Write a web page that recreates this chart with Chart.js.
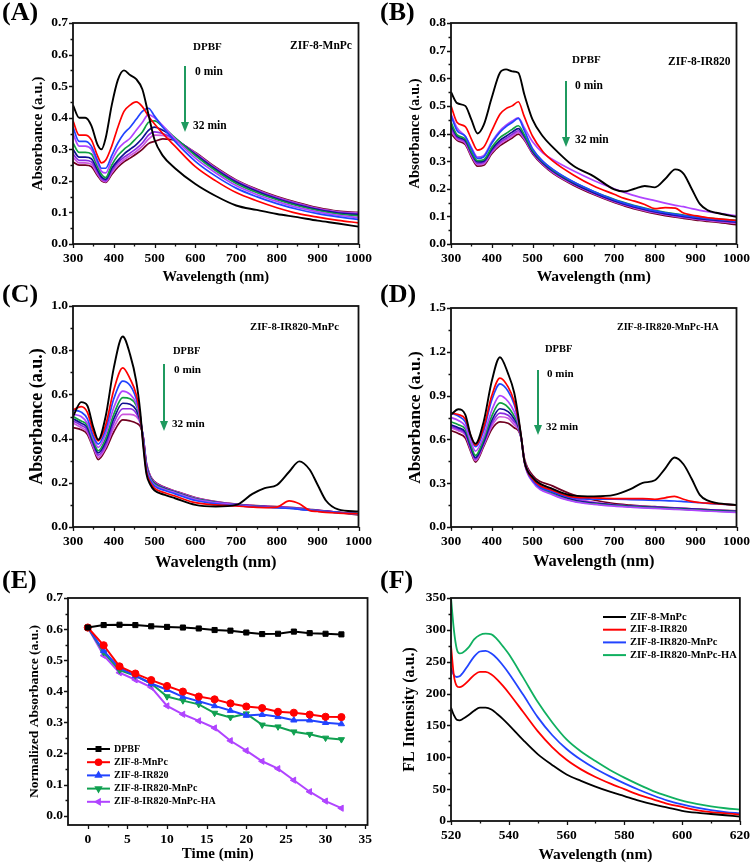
<!DOCTYPE html>
<html>
<head>
<meta charset="utf-8">
<script src="https://cdn.jsdelivr.net/npm/chart.js@4.4.1/dist/chart.umd.min.js"></script>
<style>
  body { margin: 0; background: #fff; }
  #fig { position: relative; width: 756px; height: 864px; background: #fff; overflow: hidden; }
  #fig canvas { position: absolute; }
  .tag { position: absolute; font: bold 26px 'Liberation Serif', serif; line-height: 1; color: #000; }
</style>
</head>
<body>
<div id="fig">
  <canvas id="cA" width="378" height="290" style="left:0;top:0"></canvas>
  <canvas id="cB" width="378" height="290" style="left:378px;top:0"></canvas>
  <canvas id="cC" width="378" height="285" style="left:0;top:290px"></canvas>
  <canvas id="cD" width="378" height="285" style="left:378px;top:290px"></canvas>
  <canvas id="cE" width="378" height="289" style="left:0;top:575px"></canvas>
  <canvas id="cF" width="378" height="289" style="left:378px;top:575px"></canvas>
  <div class="tag" style="left:2px;top:-1px">(A)</div>
  <div class="tag" style="left:380px;top:-1px">(B)</div>
  <div class="tag" style="left:2px;top:281px">(C)</div>
  <div class="tag" style="left:380px;top:281px">(D)</div>
  <div class="tag" style="left:2px;top:567px">(E)</div>
  <div class="tag" style="left:380px;top:567px">(F)</div>
</div>
<script>
// figura de 6 paneles: espectros de DPBF (A-D), cinetica (E) y fluorescencia (F)
var SERIF = "'Liberation Serif', 'DejaVu Serif', serif";
var TIMES = ['0 min', '4 min', '8 min', '12 min', '16 min', '20 min', '24 min', '28 min', '32 min'];
var SPEC_COLORS = ['#000000', '#ff0000', '#2244ff', '#b044ff', '#10a040', '#101090', '#8a2be2', '#cc55dd', '#700020'];

// (A) ZIF-8-MnPc
var A_WL = [300, 315, 330, 345, 360, 370, 380, 395, 410, 425, 440, 455, 470, 485, 500, 520, 550, 600, 650, 700, 750, 800, 850, 900, 950, 1000];
var A_ABS = [
  [0.44, 0.40, 0.40, 0.375, 0.315, 0.30, 0.335, 0.44, 0.52, 0.55, 0.535, 0.522, 0.49, 0.41, 0.33, 0.28, 0.24, 0.19, 0.152, 0.122, 0.108, 0.095, 0.085, 0.074, 0.065, 0.055],
  [0.39, 0.345, 0.345, 0.33, 0.28, 0.257, 0.265, 0.31, 0.37, 0.42, 0.44, 0.45, 0.435, 0.405, 0.38, 0.35, 0.31, 0.245, 0.2, 0.163, 0.137, 0.115, 0.097, 0.085, 0.075, 0.067],
  [0.37, 0.325, 0.325, 0.31, 0.265, 0.24, 0.24, 0.28, 0.32, 0.35, 0.37, 0.395, 0.42, 0.43, 0.405, 0.37, 0.325, 0.262, 0.215, 0.177, 0.15, 0.128, 0.11, 0.096, 0.086, 0.078],
  [0.35, 0.31, 0.31, 0.30, 0.255, 0.23, 0.225, 0.265, 0.30, 0.32, 0.335, 0.36, 0.385, 0.41, 0.40, 0.375, 0.333, 0.272, 0.225, 0.185, 0.157, 0.135, 0.116, 0.102, 0.091, 0.084],
  [0.32, 0.29, 0.29, 0.285, 0.245, 0.22, 0.21, 0.25, 0.28, 0.30, 0.315, 0.335, 0.355, 0.385, 0.39, 0.372, 0.337, 0.28, 0.232, 0.192, 0.163, 0.14, 0.121, 0.106, 0.095, 0.089],
  [0.30, 0.275, 0.275, 0.27, 0.235, 0.212, 0.205, 0.24, 0.265, 0.285, 0.30, 0.315, 0.335, 0.36, 0.37, 0.36, 0.335, 0.284, 0.236, 0.196, 0.167, 0.143, 0.124, 0.109, 0.098, 0.093],
  [0.285, 0.265, 0.265, 0.26, 0.228, 0.207, 0.2, 0.232, 0.258, 0.275, 0.288, 0.302, 0.32, 0.345, 0.355, 0.35, 0.332, 0.286, 0.239, 0.199, 0.17, 0.146, 0.127, 0.111, 0.1, 0.096],
  [0.275, 0.257, 0.257, 0.252, 0.222, 0.203, 0.197, 0.226, 0.25, 0.267, 0.28, 0.293, 0.31, 0.332, 0.345, 0.344, 0.33, 0.288, 0.241, 0.201, 0.172, 0.148, 0.129, 0.113, 0.102, 0.098],
  [0.26, 0.25, 0.25, 0.245, 0.217, 0.2, 0.195, 0.22, 0.243, 0.26, 0.272, 0.285, 0.3, 0.318, 0.325, 0.333, 0.328, 0.29, 0.243, 0.203, 0.174, 0.15, 0.131, 0.115, 0.104, 0.1]
];

// (B) ZIF-8-IR820
var B_WL = [300, 315, 335, 350, 365, 380, 400, 420, 435, 450, 465, 480, 500, 525, 550, 600, 650, 700, 725, 750, 775, 800, 825, 850, 870, 890, 910, 930, 950, 1000];
var B_ABS = [
  [0.55, 0.51, 0.50, 0.45, 0.40, 0.43, 0.53, 0.62, 0.632, 0.625, 0.62, 0.54, 0.45, 0.39, 0.35, 0.283, 0.245, 0.198, 0.19, 0.2, 0.21, 0.205, 0.235, 0.27, 0.255, 0.2, 0.145, 0.122, 0.113, 0.098],
  [0.50, 0.44, 0.425, 0.38, 0.34, 0.35, 0.41, 0.47, 0.49, 0.5, 0.515, 0.46, 0.39, 0.335, 0.30, 0.25, 0.21, 0.18, 0.165, 0.155, 0.143, 0.128, 0.132, 0.13, 0.112, 0.105, 0.1, 0.095, 0.092, 0.085],
  [0.465, 0.41, 0.39, 0.345, 0.31, 0.315, 0.365, 0.405, 0.425, 0.44, 0.455, 0.41, 0.345, 0.3, 0.27, 0.225, 0.19, 0.16, 0.148, 0.137, 0.128, 0.12, 0.113, 0.107, 0.103, 0.099, 0.095, 0.092, 0.089, 0.082],
  [0.47, 0.42, 0.39, 0.35, 0.315, 0.32, 0.37, 0.41, 0.43, 0.445, 0.457, 0.42, 0.37, 0.33, 0.305, 0.265, 0.23, 0.2, 0.187, 0.175, 0.165, 0.157, 0.148, 0.14, 0.135, 0.128, 0.122, 0.117, 0.113, 0.102],
  [0.44, 0.395, 0.38, 0.335, 0.302, 0.305, 0.35, 0.385, 0.4, 0.415, 0.428, 0.395, 0.34, 0.298, 0.268, 0.224, 0.19, 0.162, 0.15, 0.139, 0.13, 0.122, 0.115, 0.109, 0.105, 0.101, 0.097, 0.094, 0.091, 0.086],
  [0.43, 0.39, 0.375, 0.33, 0.297, 0.3, 0.343, 0.375, 0.39, 0.405, 0.418, 0.39, 0.335, 0.294, 0.264, 0.22, 0.186, 0.157, 0.145, 0.134, 0.125, 0.117, 0.11, 0.104, 0.1, 0.096, 0.092, 0.089, 0.086, 0.08],
  [0.42, 0.385, 0.37, 0.325, 0.292, 0.295, 0.337, 0.368, 0.382, 0.397, 0.41, 0.385, 0.332, 0.291, 0.261, 0.218, 0.184, 0.155, 0.143, 0.132, 0.123, 0.115, 0.108, 0.102, 0.098, 0.094, 0.09, 0.087, 0.084, 0.078],
  [0.41, 0.38, 0.365, 0.32, 0.287, 0.29, 0.332, 0.362, 0.376, 0.39, 0.404, 0.38, 0.33, 0.289, 0.259, 0.216, 0.182, 0.153, 0.141, 0.13, 0.121, 0.113, 0.106, 0.1, 0.096, 0.092, 0.088, 0.085, 0.082, 0.075],
  [0.40, 0.375, 0.36, 0.315, 0.282, 0.285, 0.327, 0.356, 0.37, 0.384, 0.398, 0.376, 0.327, 0.286, 0.256, 0.213, 0.179, 0.15, 0.138, 0.127, 0.118, 0.11, 0.103, 0.097, 0.093, 0.089, 0.085, 0.082, 0.079, 0.07]
];

// (C) ZIF-8-IR820-MnPc
var C_WL = [300, 320, 335, 350, 362, 380, 400, 422, 440, 455, 465, 472, 480, 490, 500, 525, 550, 600, 650, 700, 740, 770, 800, 830, 855, 880, 900, 920, 950, 1000];
var C_ABS = [
  [0.50, 0.565, 0.55, 0.45, 0.395, 0.50, 0.72, 0.862, 0.78, 0.66, 0.52, 0.37, 0.24, 0.19, 0.165, 0.145, 0.13, 0.10, 0.093, 0.10, 0.15, 0.176, 0.19, 0.25, 0.297, 0.26, 0.19, 0.12, 0.08, 0.07],
  [0.53, 0.545, 0.52, 0.43, 0.39, 0.46, 0.62, 0.72, 0.67, 0.60, 0.50, 0.38, 0.25, 0.2, 0.175, 0.155, 0.14, 0.11, 0.1, 0.095, 0.09, 0.088, 0.09, 0.118, 0.105, 0.075, 0.07, 0.066, 0.063, 0.06],
  [0.53, 0.52, 0.49, 0.41, 0.375, 0.44, 0.58, 0.66, 0.64, 0.58, 0.50, 0.39, 0.26, 0.21, 0.185, 0.165, 0.15, 0.12, 0.105, 0.097, 0.092, 0.09, 0.087, 0.084, 0.08, 0.075, 0.072, 0.07, 0.065, 0.06],
  [0.51, 0.50, 0.47, 0.40, 0.36, 0.42, 0.54, 0.615, 0.60, 0.56, 0.49, 0.395, 0.27, 0.215, 0.19, 0.17, 0.155, 0.125, 0.11, 0.1, 0.094, 0.091, 0.088, 0.085, 0.081, 0.076, 0.073, 0.07, 0.065, 0.06],
  [0.50, 0.48, 0.46, 0.39, 0.345, 0.40, 0.51, 0.585, 0.58, 0.55, 0.485, 0.4, 0.275, 0.22, 0.195, 0.172, 0.157, 0.127, 0.111, 0.1, 0.094, 0.091, 0.088, 0.085, 0.081, 0.076, 0.073, 0.07, 0.065, 0.06],
  [0.49, 0.47, 0.45, 0.38, 0.335, 0.385, 0.49, 0.56, 0.555, 0.53, 0.48, 0.405, 0.28, 0.222, 0.197, 0.174, 0.158, 0.128, 0.112, 0.101, 0.095, 0.092, 0.089, 0.086, 0.082, 0.077, 0.074, 0.071, 0.066, 0.06],
  [0.48, 0.46, 0.44, 0.37, 0.325, 0.37, 0.47, 0.535, 0.535, 0.515, 0.475, 0.41, 0.285, 0.225, 0.2, 0.176, 0.16, 0.13, 0.113, 0.102, 0.096, 0.093, 0.09, 0.087, 0.083, 0.078, 0.075, 0.072, 0.066, 0.06],
  [0.47, 0.45, 0.43, 0.36, 0.315, 0.36, 0.45, 0.51, 0.51, 0.50, 0.47, 0.41, 0.29, 0.228, 0.203, 0.178, 0.162, 0.132, 0.114, 0.103, 0.097, 0.094, 0.091, 0.088, 0.084, 0.079, 0.075, 0.072, 0.066, 0.058],
  [0.45, 0.44, 0.42, 0.355, 0.305, 0.35, 0.43, 0.485, 0.48, 0.47, 0.455, 0.41, 0.29, 0.23, 0.205, 0.18, 0.163, 0.133, 0.115, 0.104, 0.098, 0.095, 0.092, 0.089, 0.085, 0.08, 0.076, 0.073, 0.066, 0.055]
];

// (D) ZIF-8-IR820-MnPc-HA
var D_WL = [300, 318, 335, 348, 360, 380, 400, 420, 440, 455, 465, 472, 480, 500, 550, 600, 650, 700, 740, 770, 800, 825, 848, 870, 890, 910, 930, 950, 1000];
var D_ABS = [
  [0.77, 0.806, 0.77, 0.63, 0.57, 0.72, 1.0, 1.163, 1.05, 0.92, 0.76, 0.62, 0.45, 0.34, 0.26, 0.215, 0.21, 0.22, 0.26, 0.302, 0.32, 0.40, 0.476, 0.43, 0.33, 0.22, 0.18, 0.165, 0.15],
  [0.78, 0.77, 0.74, 0.63, 0.56, 0.68, 0.90, 1.02, 0.96, 0.86, 0.74, 0.62, 0.45, 0.33, 0.25, 0.205, 0.2, 0.195, 0.195, 0.195, 0.19, 0.2, 0.21, 0.19, 0.175, 0.168, 0.163, 0.16, 0.15],
  [0.78, 0.76, 0.72, 0.62, 0.55, 0.66, 0.87, 0.98, 0.93, 0.84, 0.73, 0.62, 0.45, 0.32, 0.24, 0.2, 0.19, 0.19, 0.188, 0.186, 0.183, 0.18, 0.178, 0.174, 0.17, 0.166, 0.162, 0.158, 0.15],
  [0.75, 0.73, 0.69, 0.59, 0.52, 0.62, 0.80, 0.90, 0.86, 0.79, 0.71, 0.61, 0.44, 0.31, 0.22, 0.175, 0.155, 0.143, 0.136, 0.131, 0.127, 0.124, 0.121, 0.118, 0.115, 0.112, 0.109, 0.106, 0.10],
  [0.72, 0.70, 0.67, 0.57, 0.49, 0.60, 0.76, 0.85, 0.82, 0.76, 0.70, 0.61, 0.445, 0.315, 0.225, 0.178, 0.158, 0.146, 0.139, 0.134, 0.13, 0.127, 0.124, 0.121, 0.118, 0.115, 0.112, 0.109, 0.103],
  [0.70, 0.68, 0.65, 0.55, 0.475, 0.58, 0.73, 0.81, 0.79, 0.74, 0.69, 0.61, 0.45, 0.32, 0.235, 0.185, 0.163, 0.15, 0.143, 0.138, 0.134, 0.131, 0.128, 0.125, 0.122, 0.119, 0.116, 0.113, 0.106],
  [0.69, 0.67, 0.64, 0.54, 0.465, 0.57, 0.71, 0.78, 0.765, 0.72, 0.68, 0.61, 0.455, 0.33, 0.245, 0.19, 0.166, 0.152, 0.145, 0.14, 0.136, 0.133, 0.13, 0.127, 0.124, 0.121, 0.118, 0.115, 0.108],
  [0.68, 0.66, 0.63, 0.53, 0.455, 0.56, 0.69, 0.755, 0.745, 0.70, 0.67, 0.61, 0.46, 0.34, 0.26, 0.2, 0.17, 0.152, 0.144, 0.139, 0.135, 0.132, 0.129, 0.126, 0.123, 0.12, 0.117, 0.114, 0.106],
  [0.66, 0.64, 0.61, 0.52, 0.445, 0.55, 0.67, 0.72, 0.71, 0.68, 0.66, 0.61, 0.47, 0.355, 0.28, 0.22, 0.185, 0.16, 0.15, 0.144, 0.139, 0.135, 0.132, 0.128, 0.125, 0.122, 0.119, 0.116, 0.11]
];

// (E) absorbancia normalizada vs tiempo
var E_T = [0, 2, 4, 6, 8, 10, 12, 14, 16, 18, 20, 22, 24, 26, 28, 30, 32];
var E_DPBF = [0.605, 0.613, 0.614, 0.613, 0.609, 0.607, 0.605, 0.602, 0.597, 0.595, 0.589, 0.584, 0.585, 0.592, 0.587, 0.585, 0.583];
var E_MNPC = [0.605, 0.548, 0.48, 0.457, 0.436, 0.417, 0.399, 0.383, 0.374, 0.361, 0.351, 0.346, 0.334, 0.331, 0.325, 0.318, 0.317];
var E_IR820 = [0.605, 0.53, 0.475, 0.45, 0.425, 0.405, 0.382, 0.368, 0.353, 0.338, 0.322, 0.325, 0.318, 0.307, 0.307, 0.299, 0.295];
var E_IR_MNPC = [0.605, 0.525, 0.468, 0.45, 0.425, 0.383, 0.37, 0.358, 0.33, 0.316, 0.328, 0.292, 0.286, 0.27, 0.262, 0.25, 0.245];
var E_HA = [0.605, 0.515, 0.46, 0.437, 0.413, 0.353, 0.326, 0.305, 0.282, 0.241, 0.209, 0.175, 0.151, 0.114, 0.077, 0.047, 0.024];

// (F) fluorescencia
var F_WL = [520, 521, 522, 523, 524, 526, 528, 530, 532, 534, 536, 538, 540, 545, 550, 555, 560, 565, 570, 575, 580, 585, 590, 595, 600, 605, 610, 615, 620];
var F_MNPC = [178, 166, 159, 158, 160, 166, 173, 178, 178, 175, 168, 160, 151, 127, 105, 88, 73, 63, 54, 46, 39, 32, 26, 21, 16, 13, 11, 9, 7];
var F_IR820 = [275, 228, 212, 210, 212, 220, 229, 234, 234, 230, 222, 212, 201, 171, 141, 116, 96, 81, 69, 59, 50, 41, 34, 27, 22, 17, 14, 12, 10];
var F_IR_MNPC = [240, 229, 226, 227, 232, 245, 258, 266, 267, 263, 255, 244, 232, 198, 163, 135, 113, 96, 82, 70, 59, 49, 40, 32, 26, 21, 17, 14, 12];
var F_HA = [350, 300, 270, 263, 264, 272, 285, 292, 294, 293, 285, 274, 262, 225, 187, 155, 128, 109, 94, 80, 68, 57, 47, 39, 32, 27, 23, 20, 18];

var SPEC_X_TICKS = [300, 400, 500, 600, 700, 800, 900, 1000];

function pts(xs, ys) {
  return xs.map(function (x, i) { return { x: x, y: ys[i] }; });
}

function spectra(wl, rows) {
  return rows.map(function (r, i) {
    return { label: TIMES[i], data: pts(wl, r), borderColor: SPEC_COLORS[i], borderWidth: i === 0 ? 1.9 : 1.7,
      pointRadius: 0, cubicInterpolationMode: 'monotone' };
  });
}

function ticksOf(lo, hi, step) {
  var out = [];
  for (var k = 0; lo + k * step <= hi + 1e-9; k++) out.push(+(lo + k * step).toFixed(4));
  return out;
}

function withMinor(major) {
  var out = [];
  major.forEach(function (v, i) {
    out.push({ v: v, len: 4 });
    if (i < major.length - 1) out.push({ v: (v + major[i + 1]) / 2, len: 2.5 });
  });
  return out;
}

function marker(ctx, ds, x, y, r) {
  ctx.fillStyle = ds.backgroundColor || ds.borderColor;
  ctx.strokeStyle = ds.borderColor;
  if (Chart.helpers && Chart.helpers.drawPoint) {
    Chart.helpers.drawPoint(ctx, { pointStyle: ds.pointStyle, rotation: ds.pointRotation || 0,
      radius: r, borderWidth: 1 }, x, y);
  } else {
    ctx.beginPath(); ctx.arc(x, y, r, 0, Math.PI * 2); ctx.fill();
  }
}

// marco con ticks hacia afuera (abajo e izquierda), textos, flecha y leyenda interna
var frame = {
  id: 'frame',
  afterDatasetsDraw: function (chart, args, o) {
    var ctx = chart.ctx, a = chart.chartArea, xs = chart.scales.x, ys = chart.scales.y;
    ctx.save();
    ctx.strokeStyle = '#111';
    ctx.lineWidth = 1.3;
    ctx.beginPath();
    withMinor(o.xTicks).forEach(function (m) {
      var px = Math.round(xs.getPixelForValue(m.v)) + 0.5;
      if (px < a.left - 1 || px > a.right + 1) return;
      ctx.moveTo(px, a.bottom); ctx.lineTo(px, a.bottom + m.len);
    });
    withMinor(o.yTicks).forEach(function (m) {
      var py = Math.round(ys.getPixelForValue(m.v)) + 0.5;
      if (py < a.top - 1 || py > a.bottom + 1) return;
      ctx.moveTo(a.left, py); ctx.lineTo(a.left - m.len, py);
    });
    ctx.stroke();
    ctx.lineWidth = 1.8;
    ctx.strokeRect(a.left, a.top, a.right - a.left, a.bottom - a.top);

    ctx.fillStyle = '#000';
    ctx.textAlign = 'left';
    ctx.textBaseline = 'middle';
    (o.notes || []).forEach(function (n) {
      ctx.font = 'bold ' + n.size + 'px ' + SERIF;
      ctx.fillText(n.text, n.x, n.y);
    });

    if (o.arrow) {
      var ar = o.arrow;
      ctx.strokeStyle = '#1f9a5f'; ctx.fillStyle = '#1f9a5f'; ctx.lineWidth = 2;
      ctx.beginPath(); ctx.moveTo(ar.x, ar.y1); ctx.lineTo(ar.x, ar.y2 - 8); ctx.stroke();
      ctx.beginPath(); ctx.moveTo(ar.x - 4, ar.y2 - 10); ctx.lineTo(ar.x + 4, ar.y2 - 10); ctx.lineTo(ar.x, ar.y2); ctx.closePath(); ctx.fill();
    }

    if (o.legend) {
      var lg = o.legend;
      chart.data.datasets.forEach(function (ds, i) {
        var y = lg.y + i * lg.dy;
        ctx.strokeStyle = ds.borderColor; ctx.lineWidth = 2;
        ctx.beginPath(); ctx.moveTo(lg.x, y); ctx.lineTo(lg.x + lg.w, y); ctx.stroke();
        if (ds.pointRadius) marker(ctx, ds, lg.x + lg.w / 2, y, 2.8);
        ctx.fillStyle = '#000';
        ctx.font = 'bold ' + lg.size + 'px ' + SERIF;
        ctx.fillText(ds.label, lg.x + lg.w + 4, y);
      });
    }
    ctx.restore();
  }
};

function axis(ax, isX, boxSize, titlePad) {
  return {
    type: 'linear', min: ax.min, max: ax.max,
    grid: { display: false, drawTicks: false },
    border: { display: false },
    afterBuildTicks: function (s) { s.ticks = ax.ticks.map(function (v) { return { value: v }; }); },
    afterFit: function (s) { if (isX) s.height = boxSize; else s.width = boxSize; },
    ticks: { autoSkip: false, maxRotation: 0, padding: isX ? 6 : 5, color: '#000',
      font: { family: SERIF, size: 13.5, weight: 'bold' },
      callback: function (v) { return Number(v).toFixed(ax.dec); } },
    title: { display: true, text: ax.title, color: '#000',
      font: { family: SERIF, size: ax.size, weight: 'bold', lineHeight: 1 },
      padding: isX ? { top: 0, bottom: titlePad } : { top: titlePad, bottom: 0 } }
  };
}

function panel(id, p) {
  var c = document.getElementById(id);
  var W = c.width, H = c.height;
  return new Chart(c, {
    type: 'line',
    data: { datasets: p.datasets },
    options: {
      responsive: false, animation: false, devicePixelRatio: 1,
      layout: { padding: { top: p.area[1], right: W - p.area[2], left: 0, bottom: 0 } },
      plugins: {
        legend: { display: false }, tooltip: { enabled: false },
        frame: { xTicks: p.x.ticks, yTicks: p.y.ticks, notes: p.notes, arrow: p.arrow, legend: p.legend }
      },
      scales: {
        x: axis(p.x, true, H - p.area[3], H - p.x.at - p.x.size / 2),
        y: axis(p.y, false, p.area[0], p.y.at - p.y.size / 2)
      }
    },
    plugins: [frame]
  });
}

Chart.defaults.font.family = SERIF;

panel('cA', {
  area: [73, 23, 362, 244],
  datasets: spectra(A_WL, A_ABS),
  x: { min: 300, max: 1000, ticks: SPEC_X_TICKS, dec: 0, title: 'Wavelength (nm)', size: 14.5, at: 277 },
  y: { min: 0, max: 0.7, ticks: ticksOf(0, 0.7, 0.1), dec: 1, title: 'Absorbance (a.u.)', size: 15, at: 38 },
  notes: [
    { text: 'DPBF', x: 193, y: 47, size: 11 },
    { text: 'ZIF-8-MnPc', x: 290, y: 46, size: 11.5 },
    { text: '0 min', x: 195, y: 72, size: 11.5 },
    { text: '32 min', x: 193, y: 126, size: 11.5 }
  ],
  arrow: { x: 185, y1: 66, y2: 132 }
});

panel('cB', {
  area: [73, 23, 362, 244],
  datasets: spectra(B_WL, B_ABS),
  x: { min: 300, max: 1000, ticks: SPEC_X_TICKS, dec: 0, title: 'Wavelength (nm)', size: 15.5, at: 277 },
  y: { min: 0, max: 0.8, ticks: ticksOf(0, 0.8, 0.1), dec: 1, title: 'Absorbance (a.u.)', size: 14.5, at: 37 },
  notes: [
    { text: 'DPBF', x: 194, y: 60, size: 11 },
    { text: 'ZIF-8-IR820', x: 290, y: 62, size: 11.5 },
    { text: '0 min', x: 197, y: 86, size: 11.5 },
    { text: '32 min', x: 197, y: 140, size: 11.5 }
  ],
  arrow: { x: 188, y1: 81, y2: 147 }
});

panel('cC', {
  area: [73, 16, 361, 237],
  datasets: spectra(C_WL, C_ABS),
  x: { min: 300, max: 1000, ticks: SPEC_X_TICKS, dec: 0, title: 'Wavelength (nm)', size: 16.5, at: 273 },
  y: { min: 0, max: 1.0, ticks: ticksOf(0, 1.0, 0.2), dec: 1, title: 'Absorbance (a.u.)', size: 18, at: 37 },
  notes: [
    { text: 'ZIF-8-IR820-MnPc', x: 250, y: 37, size: 10.7 },
    { text: 'DPBF', x: 173, y: 61, size: 10.5 },
    { text: '0 min', x: 174, y: 80, size: 11.2 },
    { text: '32 min', x: 172, y: 134, size: 11.2 }
  ],
  arrow: { x: 164, y1: 74, y2: 141 }
});

panel('cD', {
  area: [73, 18, 362, 237],
  datasets: spectra(D_WL, D_ABS),
  x: { min: 300, max: 1000, ticks: SPEC_X_TICKS, dec: 0, title: 'Wavelength (nm)', size: 16.5, at: 272 },
  y: { min: 0, max: 1.5, ticks: ticksOf(0, 1.5, 0.3), dec: 1, title: 'Absorbance (a.u.)', size: 17.5, at: 37 },
  notes: [
    { text: 'ZIF-8-IR820-MnPc-HA', x: 239, y: 37, size: 10 },
    { text: 'DPBF', x: 167, y: 59, size: 10.5 },
    { text: '0 min', x: 169, y: 84, size: 11 },
    { text: '32 min', x: 168, y: 137, size: 11 }
  ],
  arrow: { x: 160, y1: 80, y2: 145 }
});

function kinetic(label, ys, color, style, rot) {
  return { label: label, data: pts(E_T, ys), borderColor: color, backgroundColor: color, borderWidth: 2,
    pointStyle: style, pointRotation: rot, pointRadius: 3.6, pointBorderWidth: 1, tension: 0 };
}

panel('cE', {
  area: [68, 23, 368, 250],
  datasets: [
    kinetic('DPBF', E_DPBF, '#000000', 'rect', 0),
    kinetic('ZIF-8-MnPc', E_MNPC, '#ff0000', 'circle', 0),
    kinetic('ZIF-8-IR820', E_IR820, '#2244ff', 'triangle', 0),
    kinetic('ZIF-8-IR820-MnPc', E_IR_MNPC, '#10a050', 'triangle', 180),
    kinetic('ZIF-8-IR820-MnPc-HA', E_HA, '#b044ff', 'triangle', 270)
  ],
  x: { min: -2.5, max: 35.3, ticks: ticksOf(0, 35, 5), dec: 0, title: 'Time (min)', size: 15, at: 279 },
  y: { min: -0.03, max: 0.7, ticks: ticksOf(0, 0.7, 0.1), dec: 1, title: 'Normalized Absorbance (a.u.)', size: 13.5, at: 35 },
  legend: { x: 87, y: 174, dy: 13.2, w: 23, size: 10 }
});

function fl(label, ys, color) {
  return { label: label, data: pts(F_WL, ys), borderColor: color, borderWidth: 1.8, pointRadius: 0,
    cubicInterpolationMode: 'monotone' };
}

panel('cF', {
  area: [73, 23, 368, 246],
  datasets: [
    fl('ZIF-8-MnPc', F_MNPC, '#000000'),
    fl('ZIF-8-IR820', F_IR820, '#ff0000'),
    fl('ZIF-8-IR820-MnPc', F_IR_MNPC, '#2244ff'),
    fl('ZIF-8-IR820-MnPc-HA', F_HA, '#10b060')
  ],
  x: { min: 520, max: 620, ticks: ticksOf(520, 620, 20), dec: 0, title: 'Wavelength (nm)', size: 15.5, at: 280 },
  y: { min: 0, max: 350, ticks: ticksOf(0, 350, 50), dec: 0, title: 'FL Intensity (a.u.)', size: 16, at: 32 },
  legend: { x: 225, y: 42, dy: 12.7, w: 23, size: 10.5 }
});
</script>
</body>
</html>
